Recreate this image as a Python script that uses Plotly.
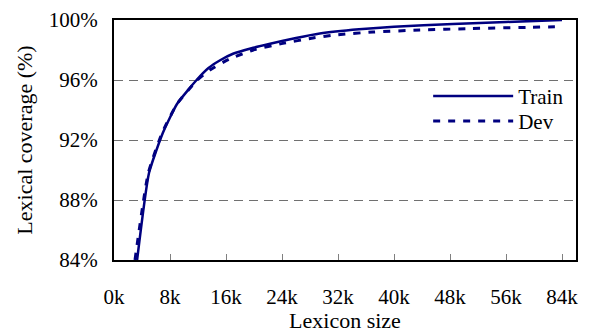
import plotly.graph_objects as go

# Lexicon size positions (k) as laid out on the axis; last tick is labelled 84k
train_x = [3.3, 5.0, 7.0, 9.0, 11.8, 13.5, 15.1, 17.0, 19.9, 22.3, 26.0, 29.4, 35.0, 40.0, 48.4, 56.0, 64.0]
train_y = [84.0, 89.8, 92.5, 94.4, 96.0, 96.8, 97.3, 97.75, 98.15, 98.42, 98.8, 99.1, 99.38, 99.55, 99.73, 99.87, 100.0]

dev_x = [3.0, 4.9, 6.9, 9.0, 11.8, 13.7, 16.5, 19.9, 24.1, 28.4, 32.0, 37.0, 43.7, 51.0, 59.0, 64.0]
dev_y = [84.0, 89.8, 92.5, 94.4, 95.95, 96.67, 97.4, 98.0, 98.44, 98.8, 99.02, 99.2, 99.33, 99.43, 99.51, 99.56]

x_tickvals = [0, 8, 16, 24, 32, 40, 48, 56, 64]
x_ticktext = ["0k", "8k", "16k", "24k", "32k", "40k", "48k", "56k", "84k"]
y_tickvals = [84, 88, 92, 96, 100]
y_ticktext = ["84%", "88%", "92%", "96%", "100%"]

NAVY = "#000080"
FONT = "Liberation Serif, Times New Roman, serif"

fig = go.Figure()
fig.add_trace(go.Scatter(x=train_x, y=train_y, mode="lines", name="Train",
                         line=dict(color=NAVY, width=2.5, shape="spline", smoothing=0.5),
                         legend="legend"))
fig.add_trace(go.Scatter(x=dev_x, y=dev_y, mode="lines", name="Dev",
                         line=dict(color=NAVY, width=3, dash="7px,8px", shape="spline", smoothing=0.5),
                         legend="legend2"))

leg_common = dict(xanchor="left", yanchor="middle", bgcolor="rgba(0,0,0,0)",
                  borderwidth=0, font=dict(family=FONT, size=21), itemwidth=80)

# the page body has an 8px margin, so the figure is sized 8px smaller and margins offset
fig.update_layout(
    template="none",
    width=588, height=325,
    margin=dict(l=106, r=20, t=12, b=73, autoexpand=False),
    paper_bgcolor="white", plot_bgcolor="white",
    font=dict(family=FONT, size=21, color="black"),
    showlegend=True,
    legend=dict(x=0.68, y=0.682, **leg_common),
    legend2=dict(x=0.68, y=0.578, **leg_common),
    xaxis=dict(range=[0, 66], tickvals=x_tickvals, ticktext=x_ticktext,
               automargin=False,
               showgrid=False, zeroline=False,
               showline=True, linecolor="black", linewidth=2, mirror=True,
               ticks="inside", ticklen=6, tickwidth=1, tickcolor="#808080",
               ticklabelstandoff=17,
               title=dict(text="Lexicon size", font=dict(size=22), standoff=14)),
    yaxis=dict(range=[84, 100], tickvals=y_tickvals, ticktext=y_ticktext,
               automargin=False,
               showgrid=True, gridcolor="#707070", gridwidth=1, griddash="9px,6px",
               zeroline=False,
               showline=True, linecolor="black", linewidth=2, mirror=True,
               ticks="", ticklabelstandoff=10,
               title=dict(text="Lexical coverage (%)", font=dict(size=22), standoff=10)),
)

fig.write_html("out.html")
